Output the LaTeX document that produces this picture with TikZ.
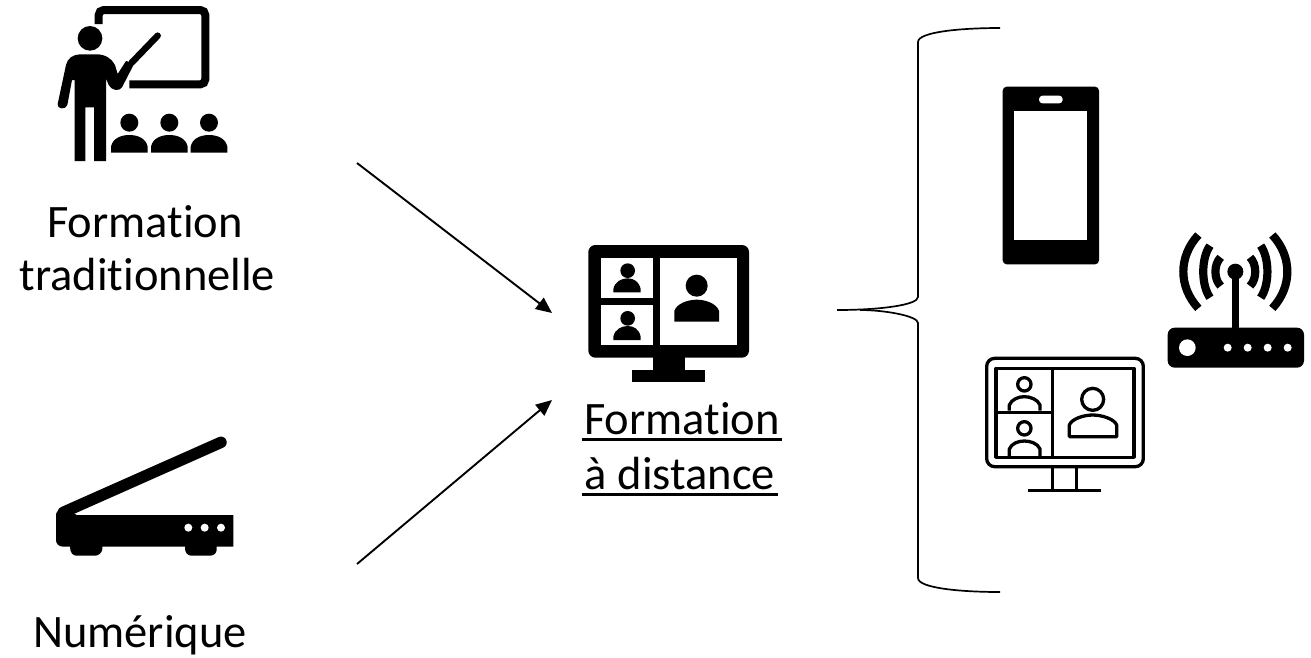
\documentclass[tikz,border=0pt]{standalone}
\usepackage{fontspec}
\setmainfont[RawFeature=-liga]{Carlito}
\usetikzlibrary{arrows.meta}
\newbox\ulsavebox
\newcommand{\ultext}[1]{\setbox\ulsavebox\hbox{#1}\hbox{\rlap{\kern-2.5pt\vrule width \dimexpr\wd\ulsavebox+5pt\relax height -3.8pt depth 6.6pt}\box\ulsavebox}}
\tikzset{
  label text/.style={anchor=base,inner sep=0pt,font=\fontsize{46.5}{50}\selectfont,text=black},
  conn/.style={line width=1.9pt,draw=black,-{Triangle[length=16pt,width=14pt]}},
  brace line/.style={line width=1.7pt,draw=black},
  zoomed/.style={x=1pt/3,y=-1pt/3},
  thin icon/.style={draw=black,line width=3.3pt,line join=round},
}
\begin{document}
\begin{tikzpicture}[x=1pt,y=-1pt]
\useasboundingbox (0,0) rectangle (1311,657);
% labels
\node[label text] (t1) at (145,237) {Formation};
\node[label text] (t2) at (147.5,290) {traditionnelle};
\node[label text] (t3) at (140,647) {Numérique};
\node[label text] (t4) at (682,434) {\ultext{Formation}};
\node[label text] (t5) at (680,489) {\ultext{à distance}};
% teacher
\begin{scope}[shift={(40,0)},zoomed]
  \draw[line width=8pt,line cap=butt,rounded corners=5pt] (176,72) -- (176,30) -- (496,30) -- (496,253) -- (268,253);
  \fill[black] (150,115) circle (37);
  \draw[line width=6.5pt,line cap=round] (275,188) -- (353,107);
  \fill[black] (53,312) -- (78,195) .. controls (82,175) and (100,163) .. (120,163) -- (170,163) .. controls (195,163) and (215,175) .. (225,195) -- (233,222) -- (258,183) -- (283,190) -- (246,262) .. controls (238,275) and (215,272) .. (206,255) -- (198,235) -- (198,483) -- (162,483) -- (162,322) -- (136,322) -- (136,483) -- (104,483) -- (104,240) -- (96,240) -- (82,315) .. controls (78,330) and (50,328) .. (53,312) -- cycle;
  \foreach \cx in {268,388,507}{
    \fill[black] (\cx,368) circle (27);
    \fill[black] (\cx-55,458) -- (\cx-55,440) .. controls (\cx-50,415) and (\cx-25,405) .. (\cx,405) .. controls (\cx+25,405) and (\cx+50,415) .. (\cx+55,440) -- (\cx+55,458) -- cycle;
  }
\end{scope}
% scanner
\begin{scope}[shift={(40,425)},zoomed]
  \draw[line width=11.5pt,line cap=round] (70,262) -- (543,52);
  \fill[black] (48,268) .. controls (48,262) and (52,258) .. (60,255) -- (75,248) -- (110,270) -- (580,270) -- (580,365) -- (530,365) -- (530,375) .. controls (530,385) and (520,392) .. (510,392) -- (455,392) .. controls (445,392) and (435,385) .. (435,370) -- (435,365) -- (187,365) -- (187,372) .. controls (185,385) and (175,392) .. (165,392) -- (110,392) .. controls (100,392) and (90,385) .. (90,365) -- (70,365) .. controls (55,365) and (48,355) .. (48,345) -- cycle;
  \foreach \cx in {445,494,543}{\fill[white] (\cx,308) circle (12);}
\end{scope}
% central monitor
\begin{scope}[shift={(570,235)},zoomed]
  \fill[black,rounded corners=7pt] (55,30) rectangle (537,368);
  \fill[black] (248,360) rectangle (345,410);
  \fill[black] (187,405) rectangle (405,440);
  \fill[white] (92,68) rectangle (250,190);
  \fill[white] (92,210) rectangle (250,330);
  \fill[white] (270,68) rectangle (500,330);
  \foreach \cy in {107,250}{
    \fill[black] (173,\cy) circle (22);
    \fill[black] (130,\cy+65) -- (130,\cy+55) .. controls (135,\cy+32) and (155,\cy+23) .. (173,\cy+23) .. controls (191,\cy+23) and (207,\cy+32) .. (212,\cy+55) -- (212,\cy+65) -- cycle;
  }
  \fill[black] (380,152) circle (33);
  \fill[black] (313,260) -- (313,228) .. controls (320,205) and (355,194) .. (380,194) .. controls (405,194) and (440,205) .. (447,228) -- (447,260) -- cycle;
\end{scope}
% outline monitor
\begin{scope}[shift={(970,345)},zoomed,thin icon]
  \draw[rounded corners=8pt] (50,40) rectangle (520,365);
  \draw (78,70) rectangle (492,337);
  \draw (248,70) -- (248,337);
  \draw (78,203) -- (248,203);
  \draw (163,118) circle (20);
  \draw (118,197) -- (118,180) .. controls (125,163) and (145,155) .. (163,155) .. controls (181,155) and (203,163) .. (210,180) -- (210,197);
  \draw (163,250) circle (20);
  \draw (118,333) -- (118,312) .. controls (125,295) and (145,288) .. (163,288) .. controls (181,288) and (203,295) .. (210,312) -- (210,333);
  \draw (368,163) circle (33);
  \draw (298,275) -- (298,240) .. controls (305,222) and (340,210) .. (368,210) .. controls (396,210) and (433,222) .. (440,240) -- (440,275) -- cycle;
  \draw (248,365) -- (248,437);
  \draw (320,365) -- (320,437);
  \draw (175,437) -- (392,437);
\end{scope}
% router
\begin{scope}[shift={(1155,225)},zoomed]
  \fill[black,rounded corners=7pt] (38,308) rectangle (447,428);
  \fill[black] (241,140) circle (24);
  \fill[black] (231,140) rectangle (251,310);
  \fill[white] (97,368) circle (25);
  \foreach \cx in {218,278,338,398}{\fill[white] (\cx,368) circle (12);}
  \begin{scope}[line width=8.2pt]
    \draw (197,97) .. controls (176,118) and (176,162) .. (197,183);
    \draw (165,62) .. controls (138,100) and (138,180) .. (165,218);
    \draw (130,30) .. controls (70,95) and (70,185) .. (130,250);
    \draw (285,97) .. controls (306,118) and (306,162) .. (285,183);
    \draw (317,62) .. controls (344,100) and (344,180) .. (317,218);
    \draw (352,30) .. controls (412,95) and (412,185) .. (352,250);
  \end{scope}
\end{scope}
% phone
\begin{scope}[shift={(990,80)},zoomed]
  \fill[black,rounded corners=4pt] (38,20) rectangle (327,553);
  \fill[white] (73,93) rectangle (291,480);
  \fill[white,rounded corners=3.5pt] (147,47) rectangle (218,70);
\end{scope}
% brace
\coordinate (bL) at (837,310);
\coordinate (bT) at (1000,28);
\coordinate (bB) at (1000,592);
\draw[brace line] (bT) .. controls (960,28) and (918,32) .. (918,42) -- (918,297) .. controls (918,305) and (880,310) .. (bL);
\draw[brace line] (bB) .. controls (960,592) and (918,588) .. (918,578) -- (918,323) .. controls (918,316) and (885,310) .. (860,310);
% arrows
\coordinate (a1) at (357,163);
\coordinate (a2) at (552,313);
\coordinate (b1) at (357,564);
\coordinate (b2) at (552,400);
\draw[conn] (a1) -- (a2);
\draw[conn] (b1) -- (b2);
\end{tikzpicture}
\end{document}
